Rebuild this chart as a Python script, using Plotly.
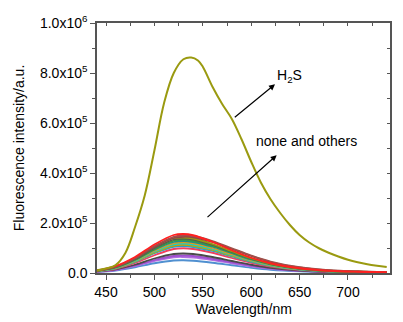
import plotly.graph_objects as go

# Wavelength grids (nm)
wl_h2s = [440, 450, 460, 470, 480, 490, 500, 510, 520, 530, 538, 545, 550, 560, 570,
          580, 590, 600, 610, 620, 630, 640, 650, 660, 670, 680, 690, 700, 710, 720,
          730, 740]
# H2S intensity (units of 1e4 a.u.)
h2s = [1.0, 1.8, 3.2, 8.0, 18.4, 31.0, 49.0, 68.0, 80.0, 85.5, 86.2, 85.0, 82.5,
       74.5, 67.6, 61.6, 53.5, 44.5, 36.2, 29.5, 24.0, 19.2, 15.2, 12.2, 9.9, 8.1,
       6.6, 5.3, 4.3, 3.5, 2.9, 2.4]

wl_s = [440, 460, 480, 500, 520, 530, 540, 560, 580, 600, 620, 650, 680, 710, 740]
others = [
    ("#5090D0", [0.4, 1.0, 2.3, 3.9, 5.0, 5.1, 4.9, 4.1, 3.1, 2.1, 1.3, 0.65, 0.35, 0.2, 0.15]),
    ("#B070E0", [0.5, 1.2, 2.8, 4.8, 6.3, 6.4, 6.2, 5.2, 3.9, 2.7, 1.7, 0.85, 0.4, 0.25, 0.2]),
    ("#A050D0", [0.5, 1.3, 3.0, 5.2, 6.8, 7.0, 6.8, 5.7, 4.3, 2.9, 1.9, 0.9, 0.45, 0.3, 0.2]),
    ("#4A4A4A", [0.6, 1.5, 3.3, 5.8, 7.6, 7.8, 7.6, 6.4, 4.8, 3.3, 2.1, 1.0, 0.5, 0.3, 0.2]),
    ("#F04060", [0.6, 1.7, 4.0, 7.1, 9.6, 9.9, 9.6, 8.1, 6.0, 4.1, 2.6, 1.3, 0.6, 0.35, 0.25]),
    ("#2AA0C8", [0.7, 1.9, 4.4, 7.9, 10.5, 10.8, 10.4, 8.8, 6.6, 4.5, 2.9, 1.4, 0.7, 0.4, 0.25]),
    ("#C8A000", [0.7, 1.9, 4.6, 8.2, 11.0, 11.3, 10.9, 9.2, 6.9, 4.7, 3.0, 1.5, 0.7, 0.4, 0.3]),
    ("#10D0D0", [0.7, 2.0, 4.8, 8.6, 11.5, 11.8, 11.4, 9.6, 7.2, 4.9, 3.1, 1.5, 0.7, 0.4, 0.3]),
    ("#E39A1A", [0.7, 2.1, 5.0, 8.9, 11.9, 12.3, 11.9, 10.0, 7.5, 5.1, 3.3, 1.6, 0.8, 0.45, 0.3]),
    ("#1E8C8C", [0.8, 2.2, 5.2, 9.3, 12.4, 12.8, 12.4, 10.5, 7.9, 5.4, 3.5, 1.7, 0.8, 0.45, 0.3]),
    ("#3A9A3A", [0.8, 2.3, 5.4, 9.6, 12.9, 13.3, 12.9, 10.9, 8.2, 5.6, 3.6, 1.8, 0.8, 0.5, 0.3]),
    ("#555555", [0.8, 2.4, 5.6, 10.0, 13.4, 13.8, 13.4, 11.3, 8.5, 5.8, 3.7, 1.8, 0.9, 0.5, 0.3]),
    ("#9A9A10", [0.9, 2.5, 5.9, 10.5, 13.9, 14.2, 13.8, 11.6, 8.7, 5.9, 3.8, 1.9, 0.9, 0.5, 0.35]),
    ("#8C4646", [0.9, 2.5, 5.8, 10.4, 14.0, 14.5, 14.3, 12.4, 9.6, 6.8, 4.4, 2.2, 1.0, 0.6, 0.4]),
    ("#A0504A", [0.9, 2.6, 6.0, 10.8, 14.5, 15.0, 14.8, 12.8, 9.9, 7.0, 4.6, 2.3, 1.1, 0.6, 0.4]),
    ("#FF2020", [1.0, 2.8, 6.4, 11.4, 15.2, 15.6, 15.1, 12.4, 9.1, 6.1, 3.9, 1.9, 0.9, 0.5, 0.35]),
]

y_tickvals = [0, 20, 40, 60, 80, 100]
y_ticktext = ["0.0", "2.0x10<sup>5</sup>", "4.0x10<sup>5</sup>", "6.0x10<sup>5</sup>",
              "8.0x10<sup>5</sup>", "1.0x10<sup>6</sup>"]
x_tickvals = [450, 500, 550, 600, 650, 700]

FONT = "Liberation Sans, Arial, sans-serif"
AXC = "#555555"
XR = [440.7, 743.4]
YR = [0, 100]

fig = go.Figure()
for color, vals in others:
    fig.add_trace(go.Scatter(x=wl_s, y=vals, mode="lines",
                             line=dict(color=color, width=1.8, shape="spline"),
                             showlegend=False))
fig.add_trace(go.Scatter(x=wl_h2s, y=h2s, mode="lines",
                         line=dict(color="#9A9A10", width=2, shape="spline"),
                         showlegend=False))
# invisible trace that activates the mirror axes
fig.add_trace(go.Scatter(x=[XR[0]], y=[0], xaxis="x2", yaxis="y2", mode="markers",
                         marker=dict(opacity=0), showlegend=False, hoverinfo="skip"))

# page body has an 8px default margin, so the figure is made 8px smaller
fig.update_layout(
    width=395, height=314,
    margin=dict(l=89, r=13, t=15, b=49, autoexpand=False),
    paper_bgcolor="white", plot_bgcolor="white",
    font=dict(family=FONT, size=14, color="black"),
    xaxis=dict(range=XR, tickvals=x_tickvals, ticks="outside", ticklen=5,
               tickwidth=1.2, tickcolor=AXC, showline=True, linecolor=AXC, linewidth=1.5,
               showgrid=False, zeroline=False, automargin=False,
               minor=dict(tickvals=[475, 525, 575, 625, 675, 725], ticks="outside",
                          ticklen=3, tickcolor=AXC),
               title=dict(text="Wavelength/nm", font=dict(size=14), standoff=6),
               tickfont=dict(size=14)),
    yaxis=dict(range=YR, tickvals=y_tickvals, ticktext=y_ticktext, ticks="outside",
               ticklen=5, tickwidth=1.2, tickcolor=AXC, showline=True, linecolor=AXC,
               linewidth=1.5, showgrid=False, zeroline=False, automargin=False,
               minor=dict(tickvals=[10, 30, 50, 70, 90], ticks="outside", ticklen=3,
                          tickcolor=AXC),
               title=dict(text="Fluorescence intensity/a.u.", font=dict(size=14), standoff=12),
               tickfont=dict(size=14)),
    xaxis2=dict(range=XR, overlaying="x", side="top", ticks="inside",
                tickvals=[450, 475, 500, 525, 550, 575, 600, 625, 650, 675, 700, 725],
                ticklen=3, tickcolor=AXC, showticklabels=False, automargin=False,
                showline=True, linecolor=AXC, linewidth=1.5, showgrid=False, zeroline=False),
    yaxis2=dict(range=YR, overlaying="y", side="right", ticks="inside",
                tickvals=[10, 20, 30, 40, 50, 60, 70, 80, 90], automargin=False,
                ticklen=3, tickcolor=AXC, showticklabels=False,
                showline=True, linecolor=AXC, linewidth=1.5, showgrid=False, zeroline=False),
)

fig.add_annotation(x=624.6, y=75.5, ax=581.5, ay=61.8, xref="x", yref="y", axref="x", ayref="y",
                   showarrow=True, arrowhead=2, arrowsize=1, arrowwidth=1.2, arrowcolor="black",
                   text="")
fig.add_annotation(x=626.3, y=47.1, ax=553.3, ay=21.8, xref="x", yref="y", axref="x", ayref="y",
                   showarrow=True, arrowhead=2, arrowsize=1, arrowwidth=1.2, arrowcolor="black",
                   text="")
fig.add_annotation(x=640, y=79.0, xref="x", yref="y", showarrow=False,
                   text="H<sub>2</sub>S", font=dict(size=14))
fig.add_annotation(x=657.6, y=52.7, xref="x", yref="y", showarrow=False,
                   text="none and others", font=dict(size=14))

fig.write_html("out.html")
